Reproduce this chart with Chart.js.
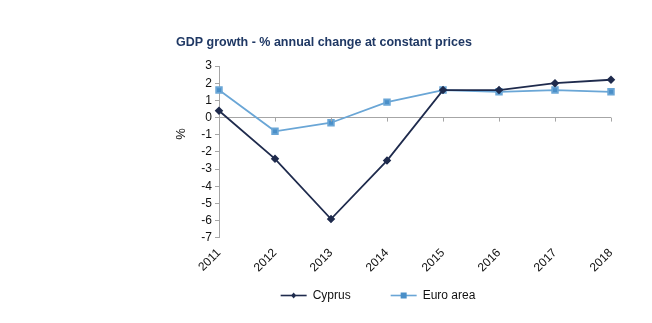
<!DOCTYPE html>
<html>
<head>
<meta charset="utf-8">
<script src="https://cdn.jsdelivr.net/npm/chart.js@4"></script>
<style>
  html, body { margin: 0; padding: 0; background: #fff; }
  #wrap { width: 652px; height: 323px; }
</style>
</head>
<body>
<div id="wrap"><canvas id="gdpChart" width="652" height="323"></canvas></div>
<script>
  // GDP growth, % annual change at constant prices
  const years = ['2011', '2012', '2013', '2014', '2015', '2016', '2017', '2018'];
  const cyprus = [0.4, -2.4, -5.9, -2.5, 1.6, 1.6, 2.0, 2.2];
  const euroArea = [1.6, -0.8, -0.3, 0.9, 1.6, 1.5, 1.6, 1.5];
  const yTicks = [3, 2, 1, 0, -1, -2, -3, -4, -5, -6, -7];

  const cyprusColor = '#1f2b4d';
  const euroColor = '#6aa6d6';
  const euroMarker = '#4a8fc8';
  const axisGrey = '#a6a6a6';
  const labelFont = '12px "Liberation Sans", Arial, sans-serif';

  // category tick marks along the zero line
  const zeroTicks = {
    id: 'zeroTicks',
    afterDatasetsDraw(chart) {
      const x = chart.scales.x, y = chart.scales.y;
      const y0 = y.getPixelForValue(0);
      const ctx = chart.ctx;
      ctx.save();
      ctx.strokeStyle = axisGrey;
      ctx.lineWidth = 1;
      ctx.beginPath();
      years.forEach((_, i) => {
        const px = Math.round(x.getPixelForValue(i)) + 0.5;
        ctx.moveTo(px, y0);
        ctx.lineTo(px, y0 + 4);
      });
      ctx.stroke();
      ctx.restore();
    }
  };

  // legend: short line with the series marker, then the label
  const lineLegend = {
    id: 'lineLegend',
    afterDraw(chart) {
      const ctx = chart.ctx;
      const sets = chart.data.datasets;
      const lineW = 26, gapText = 6, gapItem = 40;
      ctx.save();
      ctx.font = labelFont;
      const widths = sets.map(ds => lineW + gapText + ctx.measureText(ds.label).width);
      const total = widths.reduce((a, b) => a + b, 0) + gapItem * (sets.length - 1);
      let x = 378 - total / 2;
      const y = 295;
      sets.forEach((ds, i) => {
        ctx.strokeStyle = ds.borderColor;
        ctx.lineWidth = 1.6;
        ctx.beginPath();
        ctx.moveTo(x, y + 0.5);
        ctx.lineTo(x + lineW, y + 0.5);
        ctx.stroke();
        ctx.fillStyle = ds.backgroundColor;
        const cx = x + lineW / 2;
        if (ds.pointStyle === 'rectRot') {
          ctx.beginPath();
          ctx.moveTo(cx, y - 2.5); ctx.lineTo(cx + 2.5, y + 0.5);
          ctx.lineTo(cx, y + 3.5); ctx.lineTo(cx - 2.5, y + 0.5);
          ctx.closePath();
          ctx.fill();
        } else {
          ctx.fillRect(cx - 3, y - 2.5, 6, 6);
        }
        ctx.fillStyle = '#111';
        ctx.textBaseline = 'middle';
        ctx.fillText(ds.label, x + lineW + gapText, y + 1);
        x += widths[i] + gapItem;
      });
      ctx.restore();
    }
  };

  const ctx = document.getElementById('gdpChart').getContext('2d');
  const gdpChart = new Chart(ctx, {
    type: 'line',
    data: {
      labels: years,
      datasets: [
        {
          label: 'Cyprus',
          data: cyprus,
          borderColor: cyprusColor,
          backgroundColor: cyprusColor,
          borderWidth: 1.8,
          pointStyle: 'rectRot',
          pointRadius: 3,
          tension: 0
        },
        {
          label: 'Euro area',
          data: euroArea,
          borderColor: euroColor,
          backgroundColor: euroMarker,
          borderWidth: 1.8,
          pointStyle: 'rect',
          pointRadius: 4,
          tension: 0
        }
      ]
    },
    options: {
      responsive: false,
      animation: false,
      layout: { padding: { left: 176, right: 41, top: 0, bottom: 40 } },
      plugins: {
        title: {
          display: true,
          text: 'GDP growth - % annual change at constant prices',
          align: 'start',
          color: '#1f3864',
          font: { family: 'Liberation Sans', size: 12.5, weight: 'bold' },
          padding: { top: 35, bottom: 16 }
        },
        legend: { display: false },
        tooltip: { enabled: false }
      },
      scales: {
        x: {
          offset: false,
          border: { display: false },
          grid: { display: false, drawTicks: false },
          ticks: {
            autoSkip: false,
            minRotation: 45,
            maxRotation: 45,
            padding: 8,
            color: '#111',
            font: { family: 'Liberation Sans', size: 12 }
          }
        },
        y: {
          min: -7,
          max: 3,
          border: { display: true, color: axisGrey },
          grid: {
            color: c => c.tick && c.tick.value === 0 ? axisGrey : 'transparent',
            tickColor: axisGrey,
            tickLength: 4
          },
          ticks: {
            stepSize: 1,
            autoSkip: false,
            padding: 3,
            color: '#111',
            font: { family: 'Liberation Sans', size: 12 },
            callback: v => yTicks.includes(v) ? v : ''
          },
          title: {
            display: true,
            // leading spaces lift the unit label above the axis centre
            text: '          %',
            color: '#111',
            font: { family: 'Liberation Sans', size: 13 },
            padding: { top: -2, bottom: 0 }
          },
          afterFit(scale) { scale.width = 43; }
        }
      }
    },
    plugins: [zeroTicks, lineLegend]
  });
</script>
</body>
</html>
